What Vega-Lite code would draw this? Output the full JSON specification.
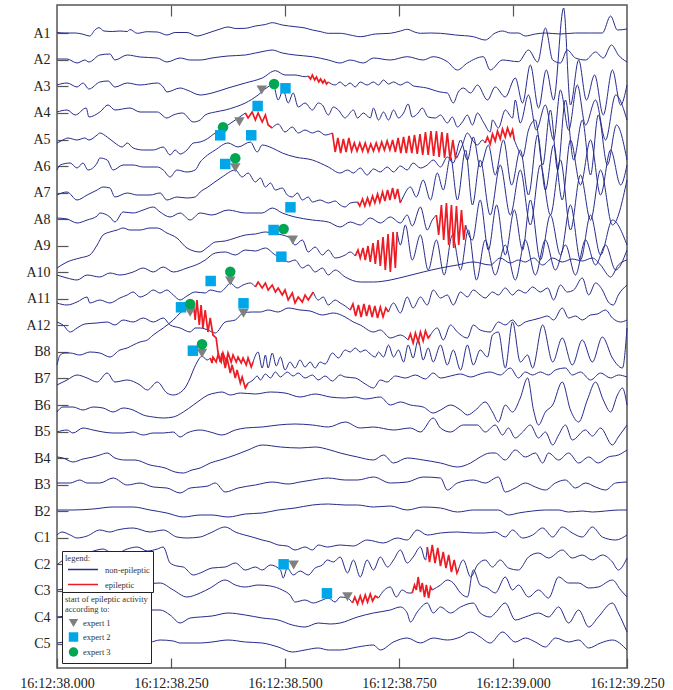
{
  "$schema": "https://vega.github.io/schema/vega-lite/v6.json",
  "width": 570,
  "height": 663,
  "autosize": {"type": "none"},
  "padding": {"left": 57, "top": 5, "right": 46, "bottom": 22},
  "background": "white",
  "config": {
    "view": {"stroke": "#555555", "strokeWidth": 1.5},
    "font": "Liberation Serif",
    "axis": {"labelFont": "Liberation Serif", "labelFontSize": 14, "labelColor": "#222222", "tickColor": "#555555", "tickWidth": 1.2, "domain": false, "grid": false, "title": null},
    "legend": {"labelFont": "Liberation Serif", "titleFont": "Liberation Serif", "labelFontSize": 8.5, "titleFontSize": 8.5, "titleFontWeight": "normal", "titleColor": "#333333", "labelColor": "#333333", "fillColor": "white", "strokeColor": "#222222", "padding": 3, "rowPadding": 4, "titlePadding": 4, "titleLineHeight": 10, "offset": 5,
      "layout": {"bottom-left": {"direction": "vertical", "margin": 0, "anchor": "start", "offset": 5}}}
  },
  "datasets": {
    "traces": [
      {"s": "A1", "k": "non-epileptic", "p": [[0,32.5],[18,33],[40,33],[55,34],[72,36],[83,30],[92,27.7],[103,31],[121,31.5],[138,31],[154,31.5],[160,29.5],[176,33.3],[198,31.7],[220,32],[241,35],[259,32.5],[285,32.5],[307,36],[325,34],[340,31.7],[358,29],[375,27],[393,28.5],[413,28.3],[435,26],[457,24.5],[472,22.7],[494,25],[522,26.7],[544,28],[560,30],[577,31.5],[595,33.3],[621,33.3],[643,35],[665,36.7],[698,34],[731,33.3],[753,31],[768,29.3],[784,32],[797,33.3],[819,33],[841,33.3],[874,35],[913,36.7],[939,40],[961,33],[977,31],[994,33],[1012,33],[1027,36],[1049,34],[1071,33],[1104,34],[1137,33],[1170,33],[1196,33],[1214,16],[1229,30],[1250,29]]},
      {"s": "A2", "k": "non-epileptic", "p": [[0,59],[22,59],[44,63],[61,60],[70,62],[94,55],[116,54],[127,60],[154,55],[182,57],[220,58],[241,62],[270,58],[292,60],[314,60],[340,58],[375,56],[413,55],[435,53],[457,51],[472,50],[494,53],[522,55],[560,56.7],[595,60],[621,63],[643,60],[672,63],[694,58],[731,60],[768,56.7],[803,60],[825,56.7],[856,61.7],[878,70],[900,63],[935,56.7],[950,70],[977,60],[1012,61.7],[1034,50],[1054,62],[1071,28],[1087,60],[1104,63],[1119,50],[1137,58],[1159,60],[1181,52],[1198,58],[1216,45],[1231,55],[1250,62]]},
      {"s": "A3a", "k": "non-epileptic", "p": [[0,85],[22,83],[44,87],[57,83],[70,89],[94,82],[112,81],[127,87],[154,83],[182,85],[220,83],[233,87],[241,92],[270,88],[285,90],[314,95],[340,93],[375,88],[413,83],[450,78],[479,70.7],[500,75],[522,75],[544,76.7],[551,76]]},
      {"s": "A3r", "k": "epileptic", "p": [[551,76],[556,79],[560,75],[565,80],[569,77],[574,82],[578,79],[583,83],[587,80],[591,84],[595,82]]},
      {"s": "A3b", "k": "non-epileptic", "p": [[595,82],[610,85],[621,82],[632,86],[643,83],[654,87],[665,82],[680,85],[694,82],[705,85],[716,80],[727,84],[738,82],[753,85],[768,82],[782,86],[797,87],[811,88],[825,90],[840,92],[856,93],[869,103],[880,92],[891,88],[907,93],[922,85],[944,100],[961,87],[983,97],[1005,78],[1021,103],[1038,65],[1056,108],[1073,70],[1089,100],[1111,8],[1126,105],[1144,60],[1161,100],[1179,75],[1198,115],[1218,70],[1236,105],[1250,85]]},
      {"s": "A4", "k": "non-epileptic", "p": [[0,112],[22,110],[40,115],[64,108],[70,117],[94,112],[112,105],[127,110],[160,108],[182,112],[220,112],[241,118],[255,115],[275,113],[299,122],[314,120],[325,115],[347,112],[369,110],[391,107],[413,103],[441,95],[459,88],[474,84.5],[485,100],[496,90],[507,103],[518,93],[529,107],[544,103],[560,110],[573,103],[582,105],[595,115],[606,107],[617,110],[632,118],[637,116],[650,110],[659,118],[672,113],[687,118],[694,108],[705,120],[716,112],[727,120],[738,110],[749,118],[760,113],[770,104],[779,117],[792,113],[801,108],[814,117],[830,118],[841,115],[856,123],[867,117],[878,127],[889,122],[900,115],[911,125],[922,113],[935,122],[950,132],[955,120],[968,128],[983,110],[999,118],[1005,100],[1016,123],[1034,95],[1051,130],[1071,105],[1089,140],[1104,90],[1122,130],[1141,85],[1159,125],[1181,100],[1203,140],[1225,95],[1250,120]]},
      {"s": "A5a", "k": "non-epileptic", "p": [[0,143],[13,140],[24,138],[44,140],[61,138],[70,140],[88,135],[94,133],[110,137],[127,143],[143,147],[154,143],[167,148],[189,150],[211,150],[233,147],[248,155],[259,150],[270,154],[285,150],[299,143],[314,142],[325,140],[347,133],[375,125],[391,120],[413,113]]},
      {"s": "A5r1", "k": "epileptic", "p": [[413,113],[419,118],[428,112],[435,120],[441,113],[450,122],[457,115],[463,125],[472,128]]},
      {"s": "A5b", "k": "non-epileptic", "p": [[472,128],[485,124],[500,132],[516,127],[529,133],[544,130],[560,133],[573,131],[588,135],[604,133]]},
      {"s": "A5r2", "k": "epileptic", "p": [[604,133],[610,152],[616,138],[622,153],[628,139],[634,152],[640,138],[646,151],[652,143],[658,151],[664,143],[670,151],[676,143],[682,152],[688,144],[694,151],[700,143],[706,151],[712,142],[718,150],[724,141],[730,150],[736,140],[742,152],[748,138],[754,153],[760,137],[766,153],[772,136],[778,153],[784,135],[790,154],[796,134],[802,155],[808,132],[814,155],[820,131],[826,156],[832,131],[838,157],[844,132],[850,158],[856,133],[862,160],[868,140],[874,158],[878,157]]},
      {"s": "A5c", "k": "non-epileptic", "p": [[878,157],[889,145],[900,133],[911,140],[922,145],[933,140],[939,143]]},
      {"s": "A5r3", "k": "epileptic", "p": [[939,143],[944,137],[950,144],[955,134],[961,141],[966,131],[972,139],[977,129],[983,137],[988,128],[994,136],[999,130],[1003,140]]},
      {"s": "A5d", "k": "non-epileptic", "p": [[1003,140],[1012,150],[1021,157],[1034,130],[1049,120],[1065,165],[1082,110],[1098,170],[1115,100],[1133,160],[1152,120],[1170,175],[1187,115],[1207,165],[1227,125],[1250,160]]},
      {"s": "A6", "k": "non-epileptic", "p": [[0,170],[7,165],[29,163],[44,168],[57,163],[68,170],[88,163],[94,158],[110,160],[123,170],[145,165],[167,165],[189,167],[220,167],[233,170],[248,177],[263,170],[285,172],[303,170],[314,162],[325,157],[347,150],[375,143],[397,147],[424,142],[439,152],[450,145],[472,148],[494,153],[522,157],[560,160],[595,167],[621,173],[637,170],[650,173],[665,168],[680,175],[694,169],[709,172],[724,167],[738,172],[753,166],[768,170],[781,163],[797,168],[812,165],[825,160],[841,167],[856,157],[869,163],[885,140],[900,160],[913,137],[928,167],[946,145],[961,175],[979,140],[997,185],[1016,150],[1034,195],[1054,135],[1071,190],[1089,145],[1108,200],[1126,140],[1148,185],[1170,140],[1192,195],[1214,150],[1236,185],[1250,165]]},
      {"s": "A7a", "k": "non-epileptic", "p": [[0,195],[22,192],[44,200],[66,195],[88,190],[101,187],[116,188],[127,197],[154,193],[176,195],[204,195],[226,193],[241,200],[263,197],[285,198],[303,197],[314,192],[331,187],[362,177],[391,170],[406,177],[419,173],[435,182],[446,178],[457,187],[468,183],[479,190],[494,188],[505,195],[516,197],[527,193],[538,200],[551,197],[560,202],[577,200],[595,203],[610,201],[621,205],[632,207],[643,203],[659,202]]},
      {"s": "A7r", "k": "epileptic", "p": [[659,202],[664,206],[670,199],[675,206],[681,198],[686,205],[692,196],[697,203],[703,194],[708,202],[714,192],[719,201],[725,190],[730,200],[736,188],[741,199],[747,189],[753,203]]},
      {"s": "A7b", "k": "non-epileptic", "p": [[753,203],[759,197],[775,187],[788,197],[803,180],[819,200],[834,173],[847,190],[863,157],[878,200],[896,150],[911,205],[928,160],[950,215],[972,165],[994,215],[1016,170],[1038,225],[1060,165],[1082,215],[1104,160],[1126,230],[1148,175],[1170,220],[1192,170],[1218,225],[1250,180]]},
      {"s": "A8a", "k": "non-epileptic", "p": [[0,218],[22,219],[44,223],[66,220],[88,216],[94,213],[116,217],[127,222],[145,212],[167,213],[189,210],[211,207],[226,212],[248,217],[270,213],[292,220],[314,213],[340,215],[375,210],[413,213],[450,213],[472,208],[494,213],[522,217],[560,220],[595,222],[621,227],[643,222],[665,225],[687,218],[709,223],[731,217],[753,223],[768,215],[779,226],[797,207],[812,230],[823,220],[832,215]]},
      {"s": "A8r", "k": "epileptic", "p": [[832,215],[837,235],[843,205],[848,240],[854,203],[859,245],[865,205],[870,248],[876,206],[881,245],[887,210],[892,240],[896,225]]},
      {"s": "A8b", "k": "non-epileptic", "p": [[896,225],[911,240],[928,200],[946,250],[964,205],[983,255],[1003,210],[1021,250],[1038,200],[1060,260],[1082,215],[1104,255],[1126,205],[1148,260],[1170,215],[1192,255],[1218,220],[1250,245]]},
      {"s": "A9a", "k": "non-epileptic", "p": [[0,268],[22,262],[50,258],[72,255],[88,245],[101,235],[116,232],[132,230],[145,228],[160,230],[182,230],[204,228],[220,228],[241,233],[263,238],[285,248],[314,252],[331,247],[347,242],[369,241],[391,238],[413,235],[435,234],[457,232],[474,233],[494,235],[511,238],[522,245],[538,240],[551,252],[566,247],[582,255],[595,250],[610,258],[632,255],[643,252],[654,256]]},
      {"s": "A9r", "k": "epileptic", "p": [[654,256],[660,250],[665,258],[671,248],[676,260],[682,246],[687,262],[693,243],[698,264],[704,240],[709,266],[715,237],[720,270],[726,234],[731,272],[737,232],[742,268],[746,232]]},
      {"s": "A9b", "k": "non-epileptic", "p": [[746,232],[753,245],[764,225],[779,260],[797,235],[814,270],[832,240],[849,275],[867,235],[885,270],[902,230],[920,280],[939,240],[961,275],[983,245],[1005,280],[1027,240],[1049,275],[1071,240],[1093,270],[1115,245],[1137,275],[1159,240],[1181,265],[1203,245],[1225,270],[1250,250]]},
      {"s": "A10", "k": "non-epileptic", "p": [[0,275],[22,278],[44,280],[66,275],[94,277],[116,273],[138,275],[167,272],[189,268],[211,272],[233,267],[255,272],[285,268],[314,263],[325,260],[347,253],[369,252],[391,255],[413,250],[435,251],[457,248],[479,255],[492,257],[507,262],[522,260],[538,268],[551,265],[566,272],[582,268],[595,275],[610,270],[632,277],[665,282],[694,282],[731,280],[768,276],[803,272],[841,268],[878,265],[913,262],[950,265],[972,258],[994,263],[1012,260],[1027,262],[1045,258],[1065,265],[1087,258],[1108,262],[1130,259],[1152,261],[1174,258],[1192,265],[1214,277],[1231,265],[1250,260]]},
      {"s": "A11a", "k": "non-epileptic", "p": [[0,303],[22,305],[44,302],[66,297],[72,303],[94,300],[116,303],[138,298],[154,295],[167,292],[182,297],[198,294],[211,290],[226,293],[241,290],[255,295],[270,300],[285,296],[303,292],[325,293],[336,290],[358,292],[369,288],[380,283],[395,288],[408,285],[424,283],[435,287]]},
      {"s": "A11r1", "k": "epileptic", "p": [[435,287],[441,282],[450,288],[457,283],[463,290],[472,285],[479,292],[485,288],[494,295],[500,290],[507,300],[516,293],[522,303],[529,297],[538,302],[544,295],[551,300],[562,292]]},
      {"s": "A11b", "k": "non-epileptic", "p": [[562,292],[573,300],[584,297],[595,305],[610,300],[621,303],[632,306],[643,310]]},
      {"s": "A11r2", "k": "epileptic", "p": [[643,310],[649,304],[655,316],[661,305],[667,317],[673,304],[679,316],[685,305],[691,317],[697,306],[703,318],[709,307],[715,317],[721,308],[727,312]]},
      {"s": "A11c", "k": "non-epileptic", "p": [[727,312],[738,303],[753,313],[768,297],[781,308],[797,297],[812,305],[825,290],[841,298],[856,295],[869,305],[885,292],[900,297],[913,290],[928,295],[939,298],[955,292],[968,295],[983,288],[999,295],[1012,290],[1027,293],[1043,287],[1060,292],[1076,288],[1089,300],[1104,285],[1119,292],[1133,290],[1152,278],[1166,295],[1181,283],[1196,290],[1209,302],[1220,305],[1231,295],[1250,285]]},
      {"s": "A12a", "k": "non-epileptic", "p": [[0,322],[13,325],[29,332],[44,328],[61,324],[88,323],[110,322],[127,325],[145,320],[167,322],[189,318],[211,322],[233,318],[248,325],[270,328],[292,332],[303,328],[314,328],[331,330],[347,333],[369,322],[391,320],[408,313],[428,312],[446,312],[463,310],[485,312],[507,308],[533,310],[555,311],[582,315],[606,313],[632,317],[650,322],[665,325],[694,332],[709,330],[731,338],[753,335],[770,340]]},
      {"s": "A12r", "k": "epileptic", "p": [[770,340],[775,334],[781,343],[786,333],[792,342],[797,332],[803,341],[808,331],[814,338],[819,335]]},
      {"s": "A12b", "k": "non-epileptic", "p": [[819,335],[834,328],[847,340],[863,325],[878,332],[900,338],[913,325],[928,330],[950,332],[968,322],[983,325],[999,320],[1012,326],[1027,322],[1043,320],[1060,318],[1076,316],[1089,320],[1108,308],[1122,318],[1137,316],[1152,320],[1170,315],[1185,314],[1203,310],[1218,318],[1236,322],[1250,320]]},
      {"s": "B8a", "k": "non-epileptic", "p": [[0,365],[7,355],[18,353],[29,353],[50,355],[72,352],[94,353],[116,357],[138,350],[154,348],[167,345],[182,342],[198,340],[211,335],[233,328],[255,320],[270,313],[285,308],[299,302]]},
      {"s": "B8r", "k": "epileptic", "p": [[299,302],[303,320],[307,300],[312,325],[316,305],[320,328],[325,310],[331,332],[336,318],[342,335],[349,338],[353,352],[358,362],[362,353],[369,368],[373,358],[380,373],[384,365],[391,378],[395,370],[402,383],[406,377],[413,388],[419,383]]},
      {"s": "B8b", "k": "non-epileptic", "p": [[419,383],[430,380],[439,376],[446,380],[457,374],[468,378],[479,372],[490,377],[505,372],[518,376],[529,373],[544,378],[560,375],[573,380],[588,376],[604,381],[621,375],[632,377],[654,378],[676,384],[694,388],[709,380],[724,382],[742,376],[764,378],[786,375],[808,379],[825,373],[841,378],[863,376],[885,374],[907,377],[928,374],[950,372],[972,375],[994,368],[1012,378],[1027,372],[1043,375],[1060,372],[1078,375],[1093,370],[1115,368],[1130,375],[1148,372],[1170,380],[1192,373],[1214,378],[1231,375],[1250,377]]},
      {"s": "B7a", "k": "non-epileptic", "p": [[0,385],[22,380],[44,375],[66,378],[88,382],[110,373],[127,382],[154,380],[182,385],[198,390],[220,382],[241,393],[255,395],[277,390],[292,378],[299,370],[310,360],[318,356],[329,360],[336,358]]},
      {"s": "B7r", "k": "epileptic", "p": [[336,358],[340,363],[342,357],[349,362],[353,355],[360,362],[364,353],[371,362],[375,353],[382,362],[386,355],[393,362],[397,357],[404,363],[408,358],[415,365],[419,358],[426,367],[430,362]]},
      {"s": "B7b", "k": "non-epileptic", "p": [[430,362],[441,352],[450,368],[457,355],[463,368],[472,353],[481,366],[490,357],[500,370],[511,362],[522,368],[533,360],[544,367],[555,362],[566,368],[577,362],[588,364],[604,353],[617,358],[632,350],[643,352],[654,348],[665,352],[676,350],[687,354],[698,357],[705,352],[716,357],[727,345],[738,357],[749,350],[760,362],[770,345],[781,358],[792,340],[803,360],[814,348],[825,362],[841,345],[856,365],[869,350],[885,370],[900,345],[913,365],[928,350],[944,357],[955,335],[968,332],[983,368],[999,322],[1016,362],[1032,355],[1043,368],[1065,325],[1087,362],[1108,338],[1130,365],[1152,340],[1174,362],[1196,337],[1218,358],[1240,368],[1250,328]]},
      {"s": "B6", "k": "non-epileptic", "p": [[0,412],[13,407],[35,407],[57,410],[79,407],[101,408],[123,412],[145,408],[167,410],[189,415],[211,417],[233,418],[255,417],[277,412],[299,405],[314,400],[331,395],[347,393],[362,392],[380,395],[402,393],[435,394],[468,392],[500,393],[533,397],[566,394],[599,397],[632,398],[654,397],[676,399],[709,397],[731,405],[753,402],[775,405],[803,407],[825,413],[841,410],[863,405],[885,410],[900,415],[918,410],[939,402],[955,412],[968,422],[983,405],[999,412],[1016,398],[1032,378],[1045,410],[1056,425],[1071,412],[1087,405],[1108,382],[1126,410],[1144,422],[1163,400],[1181,382],[1198,400],[1214,412],[1229,395],[1240,388],[1250,405]]},
      {"s": "B5", "k": "non-epileptic", "p": [[0,432],[22,430],[35,433],[57,428],[79,430],[101,432],[123,433],[145,433],[167,432],[189,435],[211,433],[233,433],[255,432],[270,437],[285,433],[314,430],[336,432],[362,435],[391,430],[413,428],[450,427],[485,425],[522,424],[560,425],[595,427],[632,422],[665,428],[694,427],[738,430],[775,428],[797,432],[825,418],[841,428],[863,432],[891,425],[922,425],[939,432],[961,425],[977,435],[990,428],[1005,438],[1021,432],[1038,425],[1056,438],[1071,432],[1087,445],[1100,435],[1115,425],[1130,440],[1159,430],[1174,436],[1192,428],[1218,445],[1231,437],[1250,425]]},
      {"s": "B4", "k": "non-epileptic", "p": [[0,457],[13,458],[35,462],[57,459],[79,457],[94,455],[110,453],[127,458],[149,460],[171,460],[204,465],[237,468],[259,472],[277,473],[296,470],[314,468],[336,463],[358,460],[391,455],[419,450],[450,445],[490,447],[533,448],[566,447],[599,450],[621,453],[659,457],[694,460],[716,455],[738,463],[768,458],[803,460],[841,463],[878,467],[907,463],[928,457],[950,453],[961,453],[983,460],[1005,450],[1027,457],[1049,453],[1065,463],[1078,453],[1100,460],[1122,453],[1144,463],[1166,457],[1187,463],[1209,457],[1231,455],[1250,450]]},
      {"s": "B3", "k": "non-epileptic", "p": [[0,483],[29,483],[50,480],[66,483],[94,483],[123,478],[154,485],[182,483],[211,487],[241,488],[270,493],[292,488],[314,487],[331,486],[347,483],[369,492],[397,488],[435,485],[472,482],[507,484],[533,482],[560,480],[595,478],[632,480],[659,480],[694,477],[731,483],[768,482],[803,477],[841,478],[856,490],[878,483],[913,480],[939,483],[968,477],[983,492],[1005,488],[1027,483],[1049,487],[1071,490],[1093,483],[1115,480],[1137,488],[1159,483],[1181,487],[1203,490],[1225,483],[1250,482]]},
      {"s": "B2", "k": "non-epileptic", "p": [[0,510],[35,510],[79,509],[123,507],[167,507],[204,510],[241,513],[277,517],[314,515],[340,515],[375,517],[413,514],[450,513],[485,510],[522,508],[560,505],[595,504],[632,505],[659,505],[694,507],[731,506],[768,510],[803,507],[841,508],[878,512],[913,510],[939,510],[968,510],[990,515],[1012,513],[1043,511],[1071,510],[1100,510],[1122,512],[1152,511],[1174,512],[1203,511],[1231,510],[1250,510]]},
      {"s": "C1", "k": "non-epileptic", "p": [[0,535],[11,532],[29,535],[44,538],[66,536],[94,530],[116,532],[132,530],[167,528],[204,532],[233,530],[263,537],[285,538],[314,537],[336,533],[369,527],[391,532],[428,537],[450,540],[468,542],[485,545],[505,546],[522,550],[544,547],[560,550],[573,545],[593,547],[621,545],[650,546],[680,540],[716,543],[746,538],[768,540],[790,530],[812,535],[841,533],[878,532],[913,533],[939,533],[961,532],[983,537],[999,530],[1021,538],[1043,535],[1065,528],[1087,537],[1108,527],[1130,533],[1152,537],[1174,527],[1196,537],[1225,540],[1250,535]]},
      {"s": "C2a", "k": "non-epileptic", "p": [[0,565],[18,560],[40,563],[61,555],[88,550],[101,549],[116,552],[132,553],[154,549],[176,547],[198,551],[220,549],[233,547],[248,563],[263,566],[277,567],[299,575],[314,573],[340,568],[369,567],[391,563],[413,570],[435,567],[450,570],[468,565],[490,570],[496,578],[505,568],[518,575],[533,571],[551,575],[566,568],[582,565],[593,560],[606,562],[621,557],[637,573],[650,560],[665,577],[680,560],[694,570],[709,557],[725,567],[738,560],[753,550],[768,563],[781,557],[797,547],[808,560],[812,547]]},
      {"s": "C2r", "k": "epileptic", "p": [[812,547],[817,562],[823,545],[829,563],[835,548],[841,566],[847,552],[853,568],[859,555],[865,572],[871,560],[877,573],[880,570]]},
      {"s": "C2b", "k": "non-epileptic", "p": [[880,570],[891,560],[907,577],[922,565],[939,560],[955,567],[972,560],[990,568],[1012,570],[1034,557],[1056,553],[1078,558],[1108,550],[1130,558],[1152,555],[1174,560],[1196,555],[1218,562],[1231,570],[1250,558]]},
      {"s": "C3a", "k": "non-epileptic", "p": [[0,590],[29,588],[61,585],[94,588],[138,587],[182,585],[226,583],[255,590],[285,597],[314,593],[336,588],[369,580],[391,585],[413,587],[441,585],[468,586],[494,590],[511,595],[522,602],[544,600],[562,603],[582,600],[595,598],[610,602],[621,597],[637,598],[648,603]]},
      {"s": "C3r1", "k": "epileptic", "p": [[648,603],[653,597],[659,604],[665,596],[670,603],[676,595],[681,602],[687,594],[692,601],[698,596],[705,598]]},
      {"s": "C3b", "k": "non-epileptic", "p": [[705,598],[718,590],[731,587],[744,597],[757,590],[770,593],[779,593]]},
      {"s": "C3r2", "k": "epileptic", "p": [[779,593],[784,585],[788,590],[792,577],[797,592],[801,583],[806,597],[810,585],[815,598],[819,587],[823,590]]},
      {"s": "C3c", "k": "non-epileptic", "p": [[823,590],[841,585],[856,580],[869,583],[885,593],[900,597],[913,570],[928,585],[944,588],[961,593],[983,577],[999,590],[1012,585],[1034,597],[1056,590],[1078,598],[1100,577],[1122,583],[1144,583],[1166,588],[1187,587],[1218,580],[1236,590],[1250,597]]},
      {"s": "C4", "k": "non-epileptic", "p": [[0,617],[40,615],[83,613],[127,615],[171,612],[204,610],[226,610],[248,615],[270,623],[292,618],[314,617],[340,616],[375,613],[413,615],[450,618],[485,620],[516,625],[544,627],[573,623],[599,624],[621,623],[659,617],[694,613],[731,610],[753,607],[768,613],[775,622],[790,612],[812,603],[825,613],[841,607],[863,613],[885,607],[913,603],[928,613],[950,617],[961,613],[983,603],[1005,620],[1027,617],[1056,613],[1078,617],[1100,607],[1122,623],[1144,610],[1166,627],[1187,617],[1218,603],[1231,613],[1250,632]]},
      {"s": "C5", "k": "non-epileptic", "p": [[0,643],[50,641],[105,641],[160,640],[204,642],[226,640],[255,641],[270,643],[314,643],[340,642],[375,640],[413,642],[450,643],[485,647],[516,652],[544,650],[573,648],[595,650],[621,650],[659,647],[694,645],[709,650],[738,642],[768,638],[797,643],[825,638],[856,640],[885,637],[907,632],[928,637],[950,643],[977,632],[1005,642],[1027,638],[1049,642],[1071,647],[1093,638],[1122,642],[1144,640],[1166,648],[1192,643],[1218,640],[1250,650]]}
    ],
    "marks": [
      {"e": "expert 1", "t": 449, "y": 90},
      {"e": "expert 3", "t": 476, "y": 84},
      {"e": "expert 2", "t": 501, "y": 88.3},
      {"e": "expert 2", "t": 440, "y": 106},
      {"e": "expert 1", "t": 400, "y": 121.7},
      {"e": "expert 3", "t": 364, "y": 127.3},
      {"e": "expert 2", "t": 358, "y": 135.3},
      {"e": "expert 2", "t": 426, "y": 135.3},
      {"e": "expert 1", "t": 391, "y": 167.7},
      {"e": "expert 3", "t": 391, "y": 158.3},
      {"e": "expert 2", "t": 369, "y": 164},
      {"e": "expert 2", "t": 512, "y": 207.3},
      {"e": "expert 1", "t": 517, "y": 240},
      {"e": "expert 2", "t": 475, "y": 230},
      {"e": "expert 3", "t": 497, "y": 229},
      {"e": "expert 2", "t": 492, "y": 256.7},
      {"e": "expert 1", "t": 380, "y": 281},
      {"e": "expert 3", "t": 380, "y": 271.7},
      {"e": "expert 2", "t": 337, "y": 281},
      {"e": "expert 1", "t": 409, "y": 313.3},
      {"e": "expert 2", "t": 409, "y": 303.3},
      {"e": "expert 1", "t": 292, "y": 312.3},
      {"e": "expert 2", "t": 272, "y": 307.3},
      {"e": "expert 3", "t": 292, "y": 304},
      {"e": "expert 1", "t": 318, "y": 353.3},
      {"e": "expert 2", "t": 298, "y": 350.7},
      {"e": "expert 3", "t": 318, "y": 344.3},
      {"e": "expert 2", "t": 497, "y": 564.3},
      {"e": "expert 1", "t": 519, "y": 565},
      {"e": "expert 2", "t": 592, "y": 593.3},
      {"e": "expert 1", "t": 637, "y": 596.7}
    ]
  },
  "resolve": {"axis": {"x": "independent"}},
  "layer": [
    {
      "data": {"name": "traces"},
      "transform": [{"flatten": ["p"]}, {"filter": "datum.k == 'non-epileptic'"}],
      "mark": {"type": "line", "strokeWidth": 1, "interpolate": "monotone"},
      "encoding": {
        "x": {"field": "p[0]", "type": "quantitative", "scale": {"domain": [0, 1250], "nice": false, "zero": false},
          "axis": {"orient": "bottom", "values": [0, 250, 500, 750, 1000, 1250], "tickCount": 20, "labelExpr": "'16:12:' + format(38 + datum.value / 1000, '06.3f')", "title": null, "tickSize": -10, "labelPadding": 18, "labelFlush": false, "labelOverlap": false}},
        "y": {"field": "p[1]", "type": "quantitative", "scale": {"domain": [5, 668], "reverse": true, "nice": false, "zero": false},
          "axis": {"orient": "left", "values": [33.3, 59.85, 86.4, 112.95, 139.5, 166.05, 192.6, 219.15, 245.7, 272.25, 298.8, 325.35, 351.9, 378.45, 405, 431.55, 458.1, 484.65, 511.2, 537.75, 564.3, 590.85, 617.4, 643.95], "tickCount": 40, "labelExpr": "['A1','A2','A3','A4','A5','A6','A7','A8','A9','A10','A11','A12','B8','B7','B6','B5','B4','B3','B2','C1','C2','C3','C4','C5'][round((datum.value - 33.3) / 26.55)]", "title": null, "tickSize": -11, "labelPadding": 18, "labelOverlap": false}},
        "stroke": {"field": "k", "type": "nominal", "scale": {"domain": ["non-epileptic", "epileptic"], "range": ["#262b8c", "#ed1c24"]},
          "legend": {"title": "legend:", "orient": "bottom-left", "symbolType": "M-3,0H3", "symbolSize": 100, "symbolStrokeWidth": 1.5, "symbolOffset": 12, "labelOffset": 16, "titlePadding": 1}},
        "detail": {"field": "s", "type": "nominal"}
      }
    },
    {
      "data": {"name": "traces"},
      "transform": [{"flatten": ["p"]}, {"filter": "datum.k == 'epileptic'"}],
      "mark": {"type": "line", "strokeWidth": 1.7, "interpolate": "linear"},
      "encoding": {
        "x": {"field": "p[0]", "type": "quantitative", "axis": null},
        "y": {"field": "p[1]", "type": "quantitative"},
        "stroke": {"field": "k", "type": "nominal", "scale": {"domain": ["non-epileptic", "epileptic"], "range": ["#262b8c", "#ed1c24"]},
          "legend": {"title": "legend:", "orient": "bottom-left", "symbolType": "M-3,0H3", "symbolSize": 100, "symbolStrokeWidth": 1.5, "symbolOffset": 12, "labelOffset": 16, "titlePadding": 1}},
        "detail": {"field": "s", "type": "nominal"}
      }
    },
    {
      "data": {"name": "marks"},
      "mark": {"type": "point", "filled": true, "opacity": 1, "size": 110, "strokeWidth": 0},
      "encoding": {
        "x": {"field": "t", "type": "quantitative",
          "axis": {"orient": "top", "values": [250, 500, 750, 1000], "tickCount": 20, "labels": false, "title": null, "tickSize": -11}},
        "y": {"field": "y", "type": "quantitative"},
        "fill": {"field": "e", "type": "nominal", "scale": {"domain": ["expert 1", "expert 2", "expert 3"], "range": ["#808080", "#00a6e8", "#00a651"]},
          "legend": {"title": ["start of epileptic activity", "according to:"], "orient": "bottom-left", "symbolSize": 90, "symbolOffset": 3, "rowPadding": -2}},
        "shape": {"field": "e", "type": "nominal", "scale": {"domain": ["expert 1", "expert 2", "expert 3"], "range": ["triangle-down", "square", "circle"]},
          "legend": {"title": ["start of epileptic activity", "according to:"], "orient": "bottom-left", "symbolSize": 90, "symbolOffset": 3, "rowPadding": -2}}
      }
    }
  ]
}
